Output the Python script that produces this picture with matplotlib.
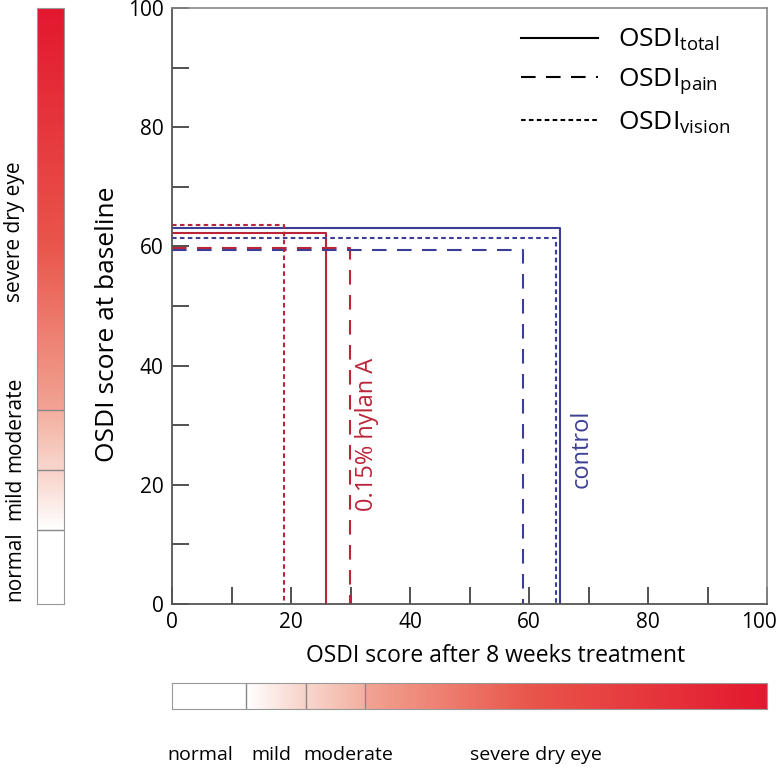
import numpy as np
import matplotlib
matplotlib.use("Agg")
import matplotlib.pyplot as plt
import matplotlib.transforms as mtransforms
from matplotlib.colors import LinearSegmentedColormap

plt.rcParams['font.family'] = ['Open Sans', 'DejaVu Sans']
plt.rcParams['mathtext.default'] = 'regular'

# ---------------------------------------------------------------
# Datos
# ---------------------------------------------------------------
groups = ['0.15% hylan A', 'control']
group_colors = ['#bb2538', '#3d3f96']

baseline_total = [62.3, 63.1]
post_total = [25.8, 65.2]
baseline_pain = [59.7, 59.4]
post_pain = [29.9, 58.9]
baseline_vision = [63.6, 61.4]
post_vision = [18.8, 64.6]

severity_labels = ['normal', 'mild', 'moderate', 'severe dry eye']
severity_bounds = [0, 12.5, 22.5, 32.5, 100]

# gradiente de la barra de severidad
grad_stops = [0.0, 0.125, 0.225, 0.2251, 0.325, 0.3251, 0.6, 1.0]
grad_colors = ['#ffffff', '#ffffff', '#f8d0c6', '#f9d6cd', '#f3ae9e',
               '#f2a493', '#e9564b', '#e3182f']

cmap = LinearSegmentedColormap.from_list('osdi', list(zip(grad_stops, grad_colors)))

DASH = (7, 5)
DOT = (2.2, 1.6)

fig = plt.figure(figsize=(7.82, 7.74), dpi=100)
ax = fig.add_axes([0.22, 0.2196, 0.761, 0.770])

styles = [
    (baseline_total, post_total, None),
    (baseline_pain, post_pain, DASH),
    (baseline_vision, post_vision, DOT),
]
for base, post, dashes in styles:
    for i in range(len(groups)):
        line, = ax.plot([0, post[i], post[i]], [base[i], base[i], 0],
                        color=group_colors[i], lw=1.5)
        if dashes is not None:
            line.set_dashes(dashes)

ax.text(32.8, 28.4, groups[0], rotation=90, color=group_colors[0],
        fontsize=17, ha='center', va='center')
ax.text(68.9, 26.0, groups[1], rotation=90, color=group_colors[1],
        fontsize=17, ha='center', va='center')

# leyenda
h1, = ax.plot([], [], color='black', lw=1.5)
h2, = ax.plot([], [], color='black', lw=1.5)
h2.set_dashes(DASH)
h3, = ax.plot([], [], color='black', lw=1.5)
h3.set_dashes(DOT)
ax.legend([h1, h2, h3],
          [r'OSDI$_{total}$', r'OSDI$_{pain}$', r'OSDI$_{vision}$'],
          loc='upper right', frameon=False, fontsize=19, handlelength=2.9,
          handletextpad=0.75, labelspacing=0.5, bbox_to_anchor=(0.977, 1.008))

ax.set_xlim(0, 100)
ax.set_ylim(0, 100)
ax.set_xticks(np.arange(0, 101, 20))
ax.set_yticks(np.arange(0, 101, 20))
ax.set_xticks(np.arange(10, 100, 20), minor=True)
ax.set_yticks(np.arange(10, 100, 20), minor=True)
ax.tick_params(which='both', direction='in', length=12, width=1.2,
               color='#333333', labelsize=15, top=False, right=False)
ax.tick_params(axis='x', pad=6)
ax.tick_params(axis='y', pad=6)
for s in ['left', 'bottom']:
    ax.spines[s].set_color('#555555')
    ax.spines[s].set_linewidth(1.3)
for s in ['top', 'right']:
    ax.spines[s].set_color('#888888')
    ax.spines[s].set_linewidth(1.2)

# "100" del eje x un poco hacia la izquierda para que no se corte
lab_last = ax.get_xticklabels()[-1]
lab_last.set_transform(lab_last.get_transform() +
                       mtransforms.ScaledTranslation(-8 / 100, 0, fig.dpi_scale_trans))

ax.set_xlabel('OSDI score after 8 weeks treatment', fontsize=16.5,
              labelpad=8, x=0.543)
ax.set_ylabel('OSDI score at baseline', fontsize=19, labelpad=6, y=0.47)

# barra vertical (izquierda)
grad = np.linspace(0, 100, 400)
axl = fig.add_axes([0.0473, 0.2196, 0.0345, 0.770])
axl.imshow(grad.reshape(-1, 1), cmap=cmap, vmin=0, vmax=100, aspect='auto',
           origin='lower', extent=[0, 1, 0, 100])
for b in severity_bounds[1:-1]:
    axl.axhline(b, color='#888888', lw=1)
axl.set_xticks([])
axl.set_yticks([])
for s in axl.spines.values():
    s.set_color('#999999')

# barra horizontal (abajo)
axb = fig.add_axes([0.22, 0.084, 0.761, 0.0336])
axb.imshow(grad.reshape(1, -1), cmap=cmap, vmin=0, vmax=100, aspect='auto',
           origin='lower', extent=[0, 100, 0, 1])
for b in severity_bounds[1:-1]:
    axb.axvline(b, color='#888888', lw=1)
axb.set_xticks([])
axb.set_yticks([])
for s in axb.spines.values():
    s.set_color('#999999')

# etiquetas de severidad
left_label_y = [566, 499, 424, 232]
bottom_label_x = [200, 271, 348, 536]
for lab, yp in zip(severity_labels, left_label_y):
    fig.text(15 / 782, 1 - yp / 774, lab, rotation=90, fontsize=15,
             ha='center', va='center')
for lab, xp in zip(severity_labels, bottom_label_x):
    fig.text(xp / 782, 1 - 755 / 774, lab, fontsize=14,
             ha='center', va='center')

fig.savefig('out.png', dpi=100)
